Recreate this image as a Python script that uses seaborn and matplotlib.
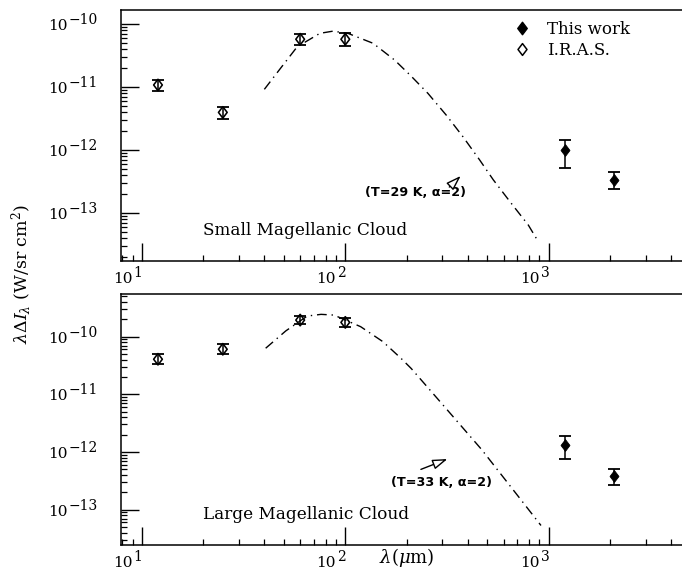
import numpy as np
import pandas as pd
import matplotlib
matplotlib.use("Agg")
import matplotlib.pyplot as plt
from matplotlib.lines import Line2D
from matplotlib.path import Path
import seaborn as sns

# ---------------- data ----------------
iras_wl = [12, 25, 60, 100]
smc_iras = [1.09e-11, 4.0e-12, 5.8e-11, 5.8e-11]
smc_iras_lo = [8.6e-12, 3.2e-12, 4.7e-11, 4.5e-11]
smc_iras_hi = [1.32e-11, 4.9e-12, 6.9e-11, 7.2e-11]
lmc_iras = [4.06e-11, 6.05e-11, 1.94e-10, 1.77e-10]
lmc_iras_lo = [3.3e-11, 5.0e-11, 1.65e-10, 1.45e-10]
lmc_iras_hi = [5.0e-11, 7.4e-11, 2.3e-10, 2.1e-10]

work_wl = [1200, 2100]
smc_work = [1.0e-12, 3.4e-13]
smc_work_lo = [5.2e-13, 2.45e-13]
smc_work_hi = [1.48e-12, 4.5e-13]
lmc_work = [1.3e-12, 3.9e-13]
lmc_work_lo = [7.6e-13, 2.7e-13]
lmc_work_hi = [1.9e-12, 5.1e-13]

smc_model_wl = [40, 48, 58, 75, 87, 103, 137, 175, 211, 255, 314, 379, 458, 534, 645, 794, 891]
smc_model = [9.3e-12, 2.0e-11, 4.4e-11, 7.2e-11, 7.8e-11, 7.2e-11, 5.0e-11, 2.7e-11,
             1.5e-11, 8.0e-12, 3.6e-12, 1.64e-12, 7.0e-13, 3.4e-13, 1.53e-13, 6.5e-14, 3.5e-14]
lmc_model_wl = [40.6, 51, 65, 76, 88, 119, 153, 188, 211, 297, 468, 708, 916]
lmc_model = [6.3e-11, 1.26e-10, 2.28e-10, 2.44e-10, 2.37e-10, 1.49e-10, 8.2e-11, 4.2e-11,
             2.8e-11, 7.0e-12, 1.1e-12, 1.7e-13, 5.3e-14]

x_decades = [1, 2, 3]
smc_y_decades = [-10, -11, -12, -13]
lmc_y_decades = [-10, -11, -12, -13]

panel_names = ["Small Magellanic Cloud", "Large Magellanic Cloud"]
model_labels = ["(T=29 K, α=2)", "(T=33 K, α=2)"]
legend_labels = ["This work", "I.R.A.S."]
x_label = r"$\lambda(\mu\mathrm{m})$"
y_label = r"$\lambda\Delta I_\lambda$ (W/sr cm$^2$)"

# ---------------- style ----------------
sns.set_style("ticks")
plt.rcParams["font.family"] = ["DejaVu Serif"]
plt.rcParams["mathtext.fontset"] = "dejavuserif"
plt.rcParams["font.size"] = 12
for k in ["text.color", "axes.labelcolor", "xtick.color", "ytick.color", "axes.edgecolor"]:
    plt.rcParams[k] = "black"

diamond = Path([(0, 1), (0.76, 0), (0, -1), (-0.76, 0), (0, 1)],
               [Path.MOVETO, Path.LINETO, Path.LINETO, Path.LINETO, Path.CLOSEPOLY])

fig = plt.figure(figsize=(6.82, 5.71), dpi=100)
ax_top = fig.add_axes([0.177, 0.5429, 0.823, 0.4396])
ax_bot = fig.add_axes([0.177, 0.045, 0.823, 0.4401])

panels = [
    dict(ax=ax_top, iras=smc_iras, ilo=smc_iras_lo, ihi=smc_iras_hi,
         work=smc_work, wlo=smc_work_lo, whi=smc_work_hi,
         mwl=smc_model_wl, m=smc_model, ylim=(1.75e-14, 1.69e-10), ydec=smc_y_decades,
         name=panel_names[0], mlabel=model_labels[0],
         arrow_tip=(0.6093, 0.3466), arrow_tail=(0.5819, 0.2869), text_pos=(0.5252, 0.2721)),
    dict(ax=ax_bot, iras=lmc_iras, ilo=lmc_iras_lo, ihi=lmc_iras_hi,
         work=lmc_work, wlo=lmc_work_lo, whi=lmc_work_hi,
         mwl=lmc_model_wl, m=lmc_model, ylim=(2.4e-14, 5.5e-10), ydec=lmc_y_decades,
         name=panel_names[1], mlabel=model_labels[1],
         arrow_tip=(0.5867, 0.3474), arrow_tail=(0.5302, 0.2981), text_pos=(0.5724, 0.2513)),
]

BASE_FS = 11
SUP_FS = 10

for p in panels:
    ax = p["ax"]
    ax.set_xscale("log")
    ax.set_yscale("log")

    mdf = pd.DataFrame({"wl": p["mwl"], "flux": p["m"]})
    sns.lineplot(data=mdf, x="wl", y="flux", ax=ax, color="black", lw=1.0,
                 linestyle=(0, (7, 3.5, 1, 3.5)), sort=False, legend=False)

    iras = np.array(p["iras"])
    ax.errorbar(iras_wl, iras,
                yerr=[iras - np.array(p["ilo"]), np.array(p["ihi"]) - iras],
                fmt="none", ecolor="black", elinewidth=1.1, capsize=4, capthick=1.3)
    idf = pd.DataFrame({"wl": iras_wl, "flux": iras})
    sns.scatterplot(data=idf, x="wl", y="flux", ax=ax, marker=diamond, s=68,
                    facecolor="none", edgecolor="black", linewidth=1.15, zorder=5)

    work = np.array(p["work"])
    ax.errorbar(work_wl, work,
                yerr=[work - np.array(p["wlo"]), np.array(p["whi"]) - work],
                fmt="none", ecolor="black", elinewidth=1.1, capsize=4, capthick=1.3)
    wdf = pd.DataFrame({"wl": work_wl, "flux": work})
    sns.scatterplot(data=wdf, x="wl", y="flux", ax=ax, marker=diamond, s=72,
                    color="black", edgecolor="black", linewidth=0.6, zorder=5)

    ax.set_xlim(7.87, 4520)
    ax.set_ylim(*p["ylim"])
    ax.set_xlabel("")
    ax.set_ylabel("")

    ax.xaxis.set_major_locator(matplotlib.ticker.FixedLocator([10.0 ** e for e in x_decades]))
    ax.xaxis.set_minor_locator(matplotlib.ticker.LogLocator(base=10, subs=np.arange(2, 10), numticks=20))
    ax.yaxis.set_major_locator(matplotlib.ticker.FixedLocator([10.0 ** e for e in p["ydec"]]))
    ax.yaxis.set_minor_locator(matplotlib.ticker.LogLocator(base=10, subs=np.arange(2, 10), numticks=20))

    ax.tick_params(which="major", direction="in", length=13, width=1.0,
                   top=False, right=False, labelbottom=False, labelleft=False)
    ax.tick_params(which="minor", direction="in", length=4.5, width=0.9,
                   top=False, right=False, labelbottom=False, labelleft=False)
    for side in ["left", "bottom", "top"]:
        ax.spines[side].set_linewidth(1.1)
        ax.spines[side].set_color("black")
    ax.spines["right"].set_visible(False)

    # tick labels: "10" with a near full-size exponent, as in the reference
    ytr = ax.get_yaxis_transform()
    for e in p["ydec"]:
        ax.annotate("10", xy=(0, 10.0 ** e), xycoords=ytr, xytext=(-52.1, -4.3),
                    textcoords="offset points", ha="left", va="baseline", fontsize=BASE_FS,
                    annotation_clip=False)
        ax.annotate("\u2212" + str(abs(e)), xy=(0, 10.0 ** e), xycoords=ytr,
                    xytext=(-37.7, 0), textcoords="offset points", ha="left",
                    va="baseline", fontsize=SUP_FS, annotation_clip=False)
    xtr = ax.get_xaxis_transform()
    for e in x_decades:
        ax.annotate(str(e), xy=(10.0 ** e, 0), xycoords=xtr, xytext=(0.5, -11.3),
                    textcoords="offset points", ha="right", va="baseline", fontsize=SUP_FS,
                    annotation_clip=False)
        ax.annotate("10", xy=(10.0 ** e, 0), xycoords=xtr, xytext=(-6.8, -15.9),
                    textcoords="offset points", ha="right", va="baseline", fontsize=BASE_FS,
                    annotation_clip=False)

    ax.text(0.1466, 0.123, p["name"], transform=ax.transAxes, ha="left", va="center",
            fontsize=12.2)
    ax.text(p["text_pos"][0], p["text_pos"][1], p["mlabel"], transform=ax.transAxes,
            ha="center", va="center", fontsize=9.2, fontweight="bold",
            family=["DejaVu Sans"])
    ax.annotate("", xy=p["arrow_tip"], xytext=p["arrow_tail"],
                xycoords="axes fraction", textcoords="axes fraction",
                arrowprops=dict(arrowstyle="-|>,head_length=0.75,head_width=0.25",
                                fc="white", ec="black", lw=1.0))

handles = [
    Line2D([], [], marker=diamond, color="black", linestyle="none", markersize=9),
    Line2D([], [], marker=diamond, markerfacecolor="white", markeredgecolor="black",
           linestyle="none", markersize=8.5, markeredgewidth=1.1),
]
ax_top.legend(handles, legend_labels, loc="upper left", bbox_to_anchor=(0.6996, 0.958),
              frameon=False, borderpad=0, borderaxespad=0, handlelength=1.0,
              handletextpad=1.0, labelspacing=0.25, fontsize=12)

fig.text(0.032, 0.52, y_label, rotation=90, ha="center", va="center", fontsize=12.5)
fig.text(407 / 682, 0.004, x_label, ha="center", va="bottom", fontsize=13)

fig.savefig("out.png", dpi=100)
